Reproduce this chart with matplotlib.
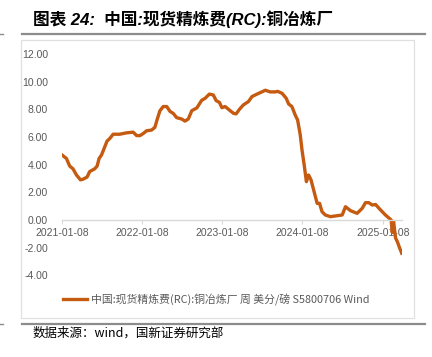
import pandas as pd
from matplotlib import pyplot as plt
from matplotlib import dates as mdates
from matplotlib import patches, lines

# 中国:现货精炼费(RC):铜冶炼厂, 美分/磅
dates = [
    "2021-01-08", "2021-01-28", "2021-02-12", "2021-02-27", "2021-03-15",
    "2021-04-02", "2021-04-14", "2021-05-02", "2021-05-14", "2021-06-06",
    "2021-06-17", "2021-06-26", "2021-07-07", "2021-07-22", "2021-08-01",
    "2021-08-14", "2021-08-29", "2021-09-28", "2021-10-29", "2021-11-28",
    "2021-12-14", "2021-12-29", "2022-01-13", "2022-01-28", "2022-02-20",
    "2022-03-07", "2022-03-18", "2022-03-30", "2022-04-14", "2022-04-30",
    "2022-05-15", "2022-05-30", "2022-06-14", "2022-07-07", "2022-07-22",
    "2022-08-06", "2022-08-22", "2022-09-14", "2022-10-06", "2022-10-22",
    "2022-11-10", "2022-11-28", "2022-12-11", "2022-12-26", "2023-01-06",
    "2023-01-21", "2023-02-13", "2023-02-28", "2023-03-12", "2023-03-27",
    "2023-04-14", "2023-05-07", "2023-05-23", "2023-06-15", "2023-07-07",
    "2023-07-23", "2023-08-14", "2023-09-06", "2023-09-17", "2023-10-07",
    "2023-10-26", "2023-11-06", "2023-11-21", "2023-12-06", "2023-12-17",
    "2023-12-29", "2024-01-06", "2024-01-17", "2024-01-26", "2024-02-05",
    "2024-02-16", "2024-02-28", "2024-03-15", "2024-03-26", "2024-04-06",
    "2024-04-21", "2024-05-14", "2024-06-06", "2024-07-07", "2024-07-22",
    "2024-08-14", "2024-09-13", "2024-10-06", "2024-10-21", "2024-11-05",
    "2024-11-21", "2024-12-06", "2024-12-29", "2025-01-20", "2025-02-15",
    "2025-02-20", "2025-02-26", "2025-03-07", "2025-03-16", "2025-03-25",
    "2025-04-04",
]
rc_values = [
    4.70, 4.45, 3.90, 3.70, 3.25,
    2.90, 2.95, 3.10, 3.50, 3.70,
    3.90, 4.45, 4.70, 5.30, 5.70,
    5.90, 6.20, 6.20, 6.30, 6.35,
    6.10, 6.10, 6.25, 6.45, 6.50,
    6.70, 7.30, 7.90, 8.20, 8.20,
    7.85, 7.70, 7.40, 7.30, 7.15,
    7.30, 7.90, 8.10, 8.65, 8.80,
    9.10, 9.04, 8.63, 8.50, 8.12,
    8.20, 7.90, 7.71, 7.67, 8.00,
    8.32, 8.56, 8.92, 9.10, 9.26,
    9.38, 9.26, 9.26, 9.30, 9.16,
    8.80, 8.39, 8.20, 7.59, 7.23,
    6.15, 5.06, 3.85, 2.77, 3.25,
    2.90, 2.17, 1.20, 1.20, 0.60,
    0.36, 0.24, 0.29, 0.36, 0.96,
    0.67, 0.48, 0.84, 1.25, 1.25,
    1.08, 1.12, 0.72, 0.36, 0.00,
    -0.90, -0.10, -1.30, -1.60, -2.00,
    -2.40,
]
xtick_dates = ["2021-01-08", "2022-01-08", "2023-01-08", "2024-01-08", "2025-01-08"]
yticks = [-4, -2, 0, 2, 4, 6, 8, 10, 12]

title = "图表 24:  中国:现货精炼费(RC):铜冶炼厂"
series_label = "中国:现货精炼费(RC):铜冶炼厂 周 美分/磅 S5800706 Wind"
source = "数据来源：wind，国新证券研究部"

W, H = 432, 357
cjk = ["Noto Sans CJK SC", "DejaVu Sans"]
gray_text = "#595959"

plt.rcParams["font.family"] = ["Liberation Sans", "Noto Sans CJK SC"]

fig = plt.figure(figsize=(W / 100, H / 100), dpi=100)
ax = fig.add_axes([62 / W, 1 - 275.3 / H, 339.7 / W, (275.3 - 54) / H])

x = pd.to_datetime(dates)
ax.plot(x, rc_values, color="#C55A11", lw=2.4, solid_joinstyle="round",
        label=series_label)

ax.set_ylim(-4, 12)
ax.set_yticks(yticks)
ax.set_yticklabels([f"{v:.2f}" for v in yticks])
ax.set_xlim(x[0], x[-1])
ax.set_xticks(pd.to_datetime(xtick_dates))
ax.xaxis.set_major_formatter(mdates.DateFormatter("%Y-%m-%d"))

for s in ["left", "right", "top"]:
    ax.spines[s].set_visible(False)
ax.spines["bottom"].set_position(("data", 0))
ax.spines["bottom"].set_color("#D9D9D9")
ax.spines["bottom"].set_linewidth(1.0)
ax.tick_params(axis="y", length=0, pad=10, labelsize=7.5, labelcolor=gray_text)
ax.tick_params(axis="x", length=3, width=0.8, color="#D9D9D9", pad=3,
               labelsize=7.5, labelcolor=gray_text)
ax.patch.set_alpha(0)

leg = ax.legend(loc="center", bbox_to_anchor=(216.5 / W, 1 - 299.5 / H),
                bbox_transform=fig.transFigure, frameon=False,
                handlelength=2.2, handletextpad=0.4, prop={"family": cjk, "size": 7.8})
for t in leg.get_texts():
    t.set_color(gray_text)

# chart frame and header / footer rules
fig.patches.append(patches.Rectangle((21 / W, 1 - 318 / H), 393 / W, 278 / H,
                                     transform=fig.transFigure, fill=False,
                                     edgecolor="#E0E0E0", lw=0.9))
for yy in [33.7, 324.3]:
    fig.add_artist(lines.Line2D([22 / W, 425 / W], [1 - yy / H] * 2,
                                transform=fig.transFigure, color="#8C8C8C", lw=1.6))
    fig.add_artist(lines.Line2D([0, 3 / W], [1 - yy / H] * 2,
                                transform=fig.transFigure, color="#8C8C8C", lw=1.0))

fig.text(33 / W, 1 - 19 / H, title, fontsize=12, fontweight="bold", fontstyle="italic",
         va="center", ha="left", family=["Liberation Sans", "Noto Sans CJK SC"])
fig.text(33 / W, 1 - 333 / H, source, fontsize=9, va="center", ha="left",
         family=cjk, color="black")

fig.savefig("out.png", dpi=100)
